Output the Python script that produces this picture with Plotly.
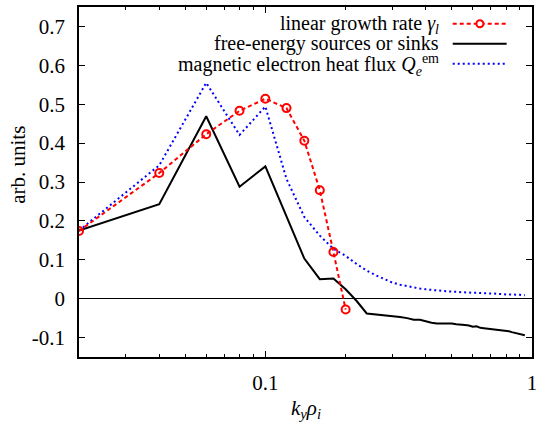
import plotly.graph_objects as go

# ---- data ----
ky_gamma = [0.02, 0.04, 0.06, 0.08, 0.10, 0.12, 0.14, 0.16, 0.18, 0.20]
gamma = [0.174, 0.323, 0.423, 0.483, 0.514, 0.490, 0.406, 0.279, 0.120, -0.028]

ky_dense = [0.02, 0.04, 0.06, 0.08, 0.10, 0.12, 0.14, 0.16, 0.18, 0.20,
            0.22, 0.24, 0.26, 0.28, 0.30, 0.32, 0.34, 0.36, 0.38, 0.40,
            0.42, 0.44, 0.46, 0.48, 0.50, 0.52, 0.54, 0.56, 0.58, 0.60,
            0.62, 0.64, 0.66, 0.68, 0.70, 0.72, 0.74, 0.76, 0.78, 0.80,
            0.82, 0.84, 0.86, 0.88, 0.90, 0.92, 0.94]
free_energy = [0.175, 0.243, 0.469, 0.288, 0.340, 0.212, 0.103, 0.050, 0.052, 0.024,
               -0.006, -0.038, -0.040, -0.042, -0.044, -0.047, -0.050, -0.054, -0.054, -0.059,
               -0.062, -0.064, -0.064, -0.065, -0.064, -0.066, -0.068, -0.068, -0.069, -0.072,
               -0.071, -0.075, -0.076, -0.077, -0.077, -0.078, -0.079, -0.080, -0.081, -0.083,
               -0.084, -0.086, -0.088, -0.089, -0.090, -0.092, -0.094]
heat_flux = [0.175, 0.343, 0.555, 0.421, 0.494, 0.308, 0.210, 0.162, 0.128, 0.110,
             0.089, 0.072, 0.060, 0.050, 0.041, 0.036, 0.032, 0.029, 0.026, 0.024,
             0.022, 0.021, 0.020, 0.019, 0.018, 0.017, 0.017, 0.016, 0.016, 0.015,
             0.015, 0.014, 0.014, 0.014, 0.013, 0.013, 0.012, 0.012, 0.012, 0.011,
             0.011, 0.011, 0.010, 0.010, 0.010, 0.009, 0.009]

y_ticks = [-0.1, 0, 0.1, 0.2, 0.3, 0.4, 0.5, 0.6, 0.7]
y_ticktext = ["-0.1", "0", "0.1", "0.2", "0.3", "0.4", "0.5", "0.6", "0.7"]
x_ticks = [0.1, 1]
x_ticktext = ["0.1", "1"]
x_minor = [0.03, 0.04, 0.05, 0.06, 0.07, 0.08, 0.09, 0.2, 0.3, 0.4, 0.5, 0.6, 0.7, 0.8, 0.9]

legend_labels = ["linear growth rate <i>γ</i><sub><i>l</i></sub>",
                 "free-energy sources or sinks",
                 "magnetic electron heat flux <i>Q</i><sub><i>e</i></sub><sup>em</sup>"]
x_title = "<i>k</i><sub><i>y</i></sub><i>ρ</i><sub><i>i</i></sub>"
y_title = "arb. units"

FONT = "Liberation Serif"
FS = 21
TXT = dict(family=FONT, size=FS, color="black")
LEG = dict(family=FONT, size=20, color="black")

fig = go.Figure()
fig.add_trace(go.Scatter(x=ky_dense, y=heat_flux, mode="lines",
                         line=dict(color="#0000ff", width=2, dash="2px,3px"), showlegend=False))
fig.add_trace(go.Scatter(x=ky_dense, y=free_energy, mode="lines",
                         line=dict(color="#000000", width=2), showlegend=False))
fig.add_trace(go.Scatter(x=ky_gamma, y=gamma, mode="lines+markers",
                         line=dict(color="#ff0000", width=2, dash="4px,3px"),
                         marker=dict(symbol="circle-open", size=8, color="#ff0000",
                                     line=dict(width=2, color="#ff0000")),
                         showlegend=False))

# legend built manually (gnuplot style: text right-aligned, sample on the right)
text_y = [0.950, 0.895, 0.835]
line_y = [0.952, 0.895, 0.838]
styles = [dict(color="#ff0000", width=2, dash="4px,3px"),
          dict(color="#000000", width=2),
          dict(color="#0000ff", width=2, dash="2px,3px")]
shapes = []
annotations = []
for lab, ty, ly, st in zip(legend_labels, text_y, line_y, styles):
    annotations.append(dict(text=lab, x=0.800, y=ty, xref="paper", yref="paper",
                            xanchor="right", yanchor="middle", showarrow=False, font=LEG))
    shapes.append(dict(type="line", xref="paper", yref="paper", x0=0.825, x1=0.944,
                       y0=ly, y1=ly, line=st))
shapes.append(dict(type="circle", xref="paper", yref="paper", xsizemode="pixel",
                   ysizemode="pixel", xanchor=0.885, yanchor=line_y[0],
                   x0=-3.5, x1=3.5, y0=-3.5, y1=3.5,
                   line=dict(color="#ff0000", width=2), fillcolor="white"))

# axis titles as annotations
annotations.append(dict(text=x_title, x=0.5, y=-0.15, xref="paper", yref="paper",
                        xanchor="center", yanchor="middle", showarrow=False, font=TXT))
annotations.append(dict(text=y_title, x=-0.134, y=0.55, xref="paper", yref="paper",
                        xanchor="center", yanchor="middle", showarrow=False, textangle=-90,
                        font=TXT))

fig.update_layout(
    template="none",
    width=546, height=422,
    margin=dict(l=79, r=14, t=7, b=65, autoexpand=False),
    paper_bgcolor="white", plot_bgcolor="white",
    font=TXT,
    shapes=shapes, annotations=annotations,
)
fig.update_xaxes(type="log", range=[-1.69897, 0], tickvals=x_ticks, ticktext=x_ticktext,
                 tickfont=TXT, automargin=False,
                 ticks="inside", ticklen=6, tickwidth=1, tickcolor="black",
                 showline=True, linecolor="black", linewidth=1.5, mirror="ticks",
                 showgrid=False, zeroline=False, ticklabelstandoff=6,
                 minor=dict(tickvals=x_minor, ticks="inside", ticklen=3, tickcolor="black",
                            showgrid=False))
fig.update_yaxes(range=[-0.15, 0.75], tickvals=y_ticks, ticktext=y_ticktext,
                 tickfont=TXT, automargin=False,
                 ticks="inside", ticklen=6, tickwidth=1, tickcolor="black",
                 showline=True, linecolor="black", linewidth=1.5, mirror="ticks",
                 showgrid=False, zeroline=True, zerolinecolor="black", zerolinewidth=1,
                 ticklabelstandoff=8)

fig.write_html("out.html", config={"displayModeBar": False},
               post_script="document.body.style.margin='0';document.body.style.padding='0';")
